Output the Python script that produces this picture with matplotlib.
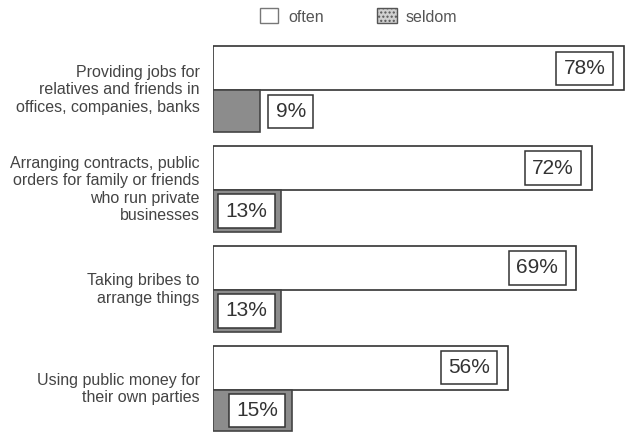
import matplotlib
matplotlib.use("Agg")
import matplotlib.pyplot as plt
from matplotlib.patches import Rectangle
import numpy as np

categories = [
    "Providing jobs for\nrelatives and friends in\noffices, companies, banks",
    "Arranging contracts, public\norders for family or friends\nwho run private\nbusinesses",
    "Taking bribes to\narrange things",
    "Using public money for\ntheir own parties",
]
often = [78, 72, 69, 56]
seldom = [9, 13, 13, 15]
series_names = ["often", "seldom"]

plt.rcParams['font.family'] = ['Liberation Sans', 'DejaVu Sans']

fig = plt.figure(figsize=(6.3, 4.34), dpi=100)
ax = fig.add_axes([213/630, 0, 1 - 213/630, (434-45)/434])

y = np.arange(len(categories))
off = 0.215
h = 0.44
ax.barh(y - off, often, height=h, left=0, color="white", edgecolor="#333333", linewidth=1.2)
ax.barh(y + off, seldom, height=h*0.95, left=0, color="#8c8c8c", edgecolor="#444444", linewidth=1.2)

ax.set_xlim(0, 79.2)
ax.set_ylim(3.45, -0.45)
ax.axis("off")

box = dict(boxstyle="square,pad=0.35", facecolor="white", edgecolor="#333333", linewidth=1.1)
for i, v in enumerate(often):
    ax.annotate(f"{v}%", (v, i - off), xytext=(-13, 0), textcoords="offset points",
                ha="right", va="center", fontsize=15, color="#333333", bbox=box)
for i, v in enumerate(seldom):
    if v < 11:
        ax.annotate(f"{v}%", (v, i + off), xytext=(11, 0), textcoords="offset points",
                    ha="left", va="center", fontsize=15, color="#333333", bbox=box)
    else:
        ax.annotate(f"{v}%", (v, i + off), xytext=(-10, 0), textcoords="offset points",
                    ha="right", va="center", fontsize=15, color="#333333", bbox=box)

for i, c in enumerate(categories):
    ax.annotate(c, (0, i), xytext=(-9.5, 0), textcoords="offset points",
                ha="right", va="center", fontsize=11.5, color="#444444",
                linespacing=1.2, annotation_clip=False)

# legend
fig.patches.append(Rectangle((260/630, 1 - 23/434), 18/630, 15/434, transform=fig.transFigure,
                             facecolor="white", edgecolor="#777777", linewidth=1.0))
fig.text(288/630, 1 - 17/434, series_names[0], ha="left", va="center", fontsize=11.5, color="#555555")
fig.patches.append(Rectangle((377/630, 1 - 23/434), 20/630, 15/434, transform=fig.transFigure,
                             facecolor="#d0d0d0", edgecolor="#555555", linewidth=1.0, hatch="...."))
fig.text(406/630, 1 - 17/434, series_names[1], ha="left", va="center", fontsize=11.5, color="#555555")

fig.savefig("out.png", dpi=100)
